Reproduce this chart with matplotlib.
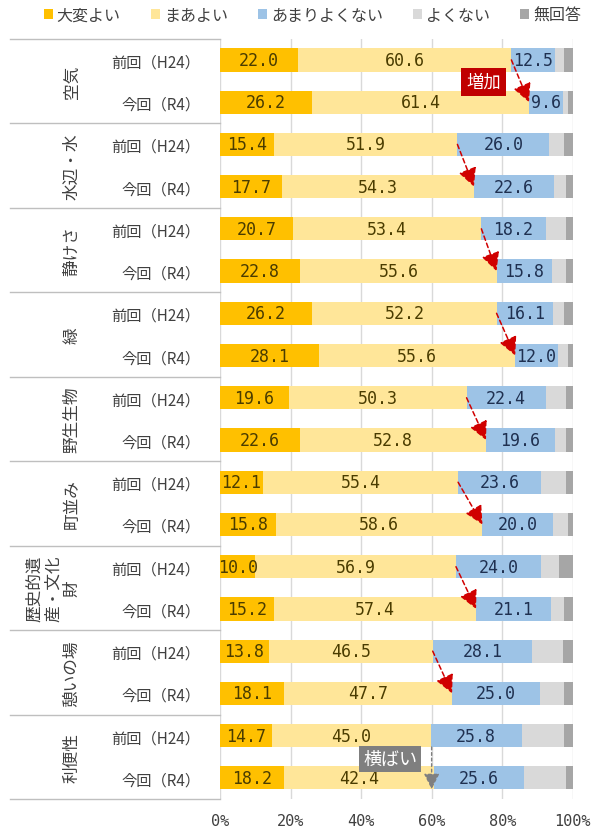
import matplotlib
matplotlib.use("Agg")
import matplotlib.pyplot as plt
from matplotlib.patches import Patch
import numpy as np

plt.rcParams['font.family'] = ['Noto Sans CJK JP', 'DejaVu Sans']

# data (%)
categories = ['空気', '水辺・水', '静けさ', '緑', '野生生物', '町並み',
              '歴史的遺\n産・文化\n財', '憩いの場', '利便性']
periods = ['前回（H24）', '今回（R4）']
series_names = ['大変よい', 'まあよい', 'あまりよくない', 'よくない', '無回答']

very_good = [22.0, 26.2, 15.4, 17.7, 20.7, 22.8, 26.2, 28.1, 19.6, 22.6,
             12.1, 15.8, 10.0, 15.2, 13.8, 18.1, 14.7, 18.2]
good = [60.6, 61.4, 51.9, 54.3, 53.4, 55.6, 52.2, 55.6, 50.3, 52.8,
        55.4, 58.6, 56.9, 57.4, 46.5, 47.7, 45.0, 42.4]
not_very = [12.5, 9.6, 26.0, 22.6, 18.2, 15.8, 16.1, 12.0, 22.4, 19.6,
            23.6, 20.0, 24.0, 21.1, 28.1, 25.0, 25.8, 25.6]
not_good = [2.5, 1.4, 4.3, 3.5, 5.8, 3.9, 3.1, 2.9, 5.8, 3.1,
            7.0, 4.2, 5.3, 3.9, 8.8, 6.8, 12.1, 11.9]
no_answer = [2.4, 1.4, 2.4, 1.9, 1.9, 1.9, 2.4, 1.4, 1.9, 1.9,
             1.9, 1.4, 3.8, 2.4, 2.8, 2.4, 2.4, 1.9]

colors = ['#FFC000', '#FFE699', '#9DC3E6', '#D9D9D9', '#A6A6A6']
label_colors = ['#4A3C00', '#4A3C00', '#1F3050']

fig = plt.figure(figsize=(6.01, 8.29), dpi=100)
ax = fig.add_axes([0.366, 0.035, 0.587, 0.917])

all_series = [very_good, good, not_very, not_good, no_answer]
n = len(very_good)
y = np.arange(n)
left = np.zeros(n)
for i, vals in enumerate(all_series):
    vals = np.array(vals)
    ax.barh(y, vals, left=left, height=0.55, color=colors[i], zorder=2)
    if i < 3:
        for yy, l, v in zip(y, left, vals):
            ax.text(l + v / 2, yy, f'{v:.1f}', ha='center', va='center',
                    fontsize=12, family='DejaVu Sans Mono',
                    color=label_colors[i], zorder=3)
    left = left + vals

ax.set_xlim(0, 100)
ax.set_ylim(n - 0.5, -0.5)
ax.set_xticks([0, 20, 40, 60, 80, 100])
ax.set_xticklabels(['0%', '20%', '40%', '60%', '80%', '100%'],
                   family='DejaVu Sans Mono', fontsize=11, color='#404040')
ax.tick_params(axis='x', length=0, pad=10)
ax.set_yticks(y)
ax.set_yticklabels(periods * len(categories), fontsize=11, color='#404040')
ax.tick_params(axis='y', length=0, pad=14)
ax.grid(axis='x', color='#D9D9D9', linewidth=1, zorder=0)
for s in ax.spines.values():
    s.set_visible(False)

# group separators and category labels
for g in range(len(categories) + 1):
    yy = g * 2 - 0.5
    ax.plot([-0.595, 0], [yy, yy], transform=ax.get_yaxis_transform(),
            color='#BFBFBF', linewidth=1, clip_on=False)
for g, cat in enumerate(categories):
    ax.text(-0.395, g * 2 + 0.5, cat, transform=ax.get_yaxis_transform(),
            rotation=90, ha='right', va='center', fontsize=12,
            color='#404040', linespacing=1.15, multialignment='center')

# red arrows: あまりよくない start point H24 -> R4
for g in range(len(categories) - 1):
    i0, i1 = g * 2, g * 2 + 1
    x0 = very_good[i0] + good[i0]
    x1 = very_good[i1] + good[i1]
    ax.annotate('', xy=(x1, i1), xytext=(x0, i0),
                arrowprops=dict(arrowstyle='-|>,head_length=0.8,head_width=0.4',
                                linestyle=(0, (3, 2)), color='#D00000',
                                linewidth=1.1, mutation_scale=14,
                                shrinkA=0, shrinkB=0), zorder=5)

# grey arrow for the flat item
ax.annotate('', xy=(60, 17.27), xytext=(60, 16.27),
            arrowprops=dict(arrowstyle='-|>,head_length=0.8,head_width=0.4',
                            linestyle=(0, (2, 2)), color='#7F7F7F',
                            linewidth=1, mutation_scale=12,
                            shrinkA=0, shrinkB=0), zorder=5)

ax.text(74.7, 0.52, '増加', ha='center', va='center', fontsize=12.5, color='white',
        zorder=6, bbox=dict(boxstyle='square,pad=0.3', fc='#C00000', ec='none'))
ax.text(48.3, 16.56, '横ばい', ha='center', va='center', fontsize=13, color='white',
        zorder=6, bbox=dict(boxstyle='square,pad=0.22', fc='#7F7F7F', ec='none'))

handles = [Patch(facecolor=c, edgecolor='none') for c in colors]
fig.legend(handles, series_names, loc='upper center', bbox_to_anchor=(0.52, 1.008),
           ncol=5, frameon=False, fontsize=11.5, handlelength=0.55,
           handleheight=0.55, handletextpad=0.25, columnspacing=1.9,
           labelcolor='#404040')

fig.savefig('out.png', dpi=100)
